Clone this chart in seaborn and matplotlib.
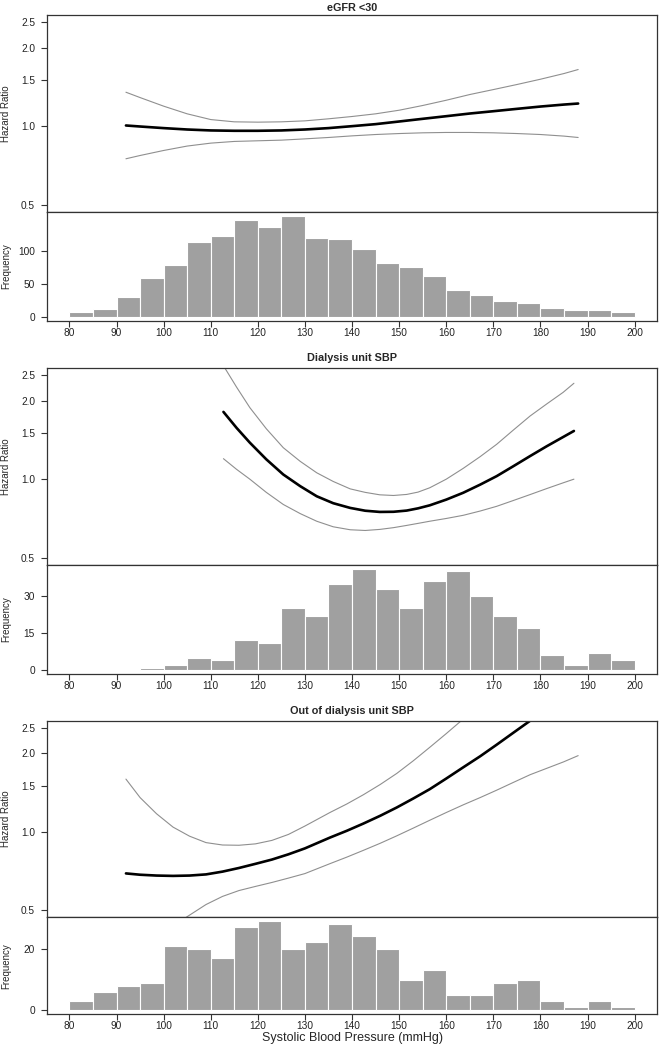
import numpy as np
import pandas as pd
import matplotlib
matplotlib.use("Agg")
import matplotlib.pyplot as plt
from matplotlib.ticker import NullLocator
import seaborn as sns

# ---- data ----
bin_edges = [80, 85, 90, 95, 100, 105, 110, 115, 120, 125, 130, 135, 140,
             145, 150, 155, 160, 165, 170, 175, 180, 185, 190, 195, 200]
sbp_ticks = [80, 90, 100, 110, 120, 130, 140, 150, 160, 170, 180, 190, 200]
hr_ticks = [0.5, 1.0, 1.5, 2.0, 2.5]

# eGFR <30
egfr_x = [92, 95, 100, 105, 110, 115, 120, 125, 130, 135, 140, 145, 150,
          155, 160, 165, 170, 175, 180, 185, 188]
egfr_hr = [1.006, 0.997, 0.983, 0.971, 0.963, 0.960, 0.960, 0.963, 0.971, 0.983,
           1.000, 1.018, 1.042, 1.067, 1.092, 1.118, 1.141, 1.165, 1.189, 1.210, 1.221]
egfr_hi = [1.349, 1.287, 1.193, 1.115, 1.060, 1.039, 1.036, 1.039, 1.048, 1.067,
           1.089, 1.115, 1.151, 1.200, 1.257, 1.322, 1.381, 1.444, 1.513, 1.591, 1.648]
egfr_lo = [0.750, 0.772, 0.807, 0.839, 0.861, 0.874, 0.879, 0.884, 0.894, 0.905,
           0.918, 0.929, 0.937, 0.943, 0.946, 0.946, 0.943, 0.937, 0.929, 0.916, 0.905]
egfr_counts = [7, 12, 30, 60, 80, 115, 124, 148, 138, 154, 120, 119,
               104, 82, 77, 63, 41, 33, 25, 21, 13, 11, 10, 7]

# Dialysis unit SBP
dial_x = [112.7, 115.5, 118.3, 121.8, 125.4, 129, 132.5, 136, 139.6, 142.8,
          145.9, 148.8, 151.6, 154, 156.5, 160, 163.6, 167.2, 170.7, 174.2,
          177.8, 181.3, 184.8, 187.1]
dial_hr = [1.81, 1.571, 1.38, 1.191, 1.042, 0.940, 0.860, 0.809, 0.776, 0.757,
           0.749, 0.750, 0.758, 0.773, 0.794, 0.835, 0.887, 0.953, 1.027, 1.120,
           1.226, 1.336, 1.45, 1.53]
dial_hi = [2.72, 2.25, 1.88, 1.56, 1.32, 1.17, 1.058, 0.98, 0.918, 0.89,
           0.871, 0.866, 0.874, 0.892, 0.927, 1.0, 1.10, 1.22, 1.36, 1.54,
           1.746, 1.94, 2.15, 2.33]
dial_lo = [1.198, 1.09, 1.0, 0.89, 0.80, 0.738, 0.69, 0.657, 0.64, 0.636,
           0.642, 0.652, 0.665, 0.677, 0.69, 0.707, 0.727, 0.755, 0.787, 0.828,
           0.873, 0.92, 0.968, 1.0]
dial_counts = [0, 0, 0, 1, 2, 5, 4, 12, 11, 25, 22, 35,
               41, 33, 25, 36, 40, 30, 22, 17, 6, 2, 7, 4]

# Out of dialysis unit SBP
out_x = [92, 95, 98.5, 102, 105.5, 109, 112.5, 116, 119.5, 123, 126.5, 130,
         135.3, 138.9, 142.4, 146, 149.5, 153, 156.5, 160, 163.6, 167.2,
         170.7, 174.2, 177.8, 184.9, 188]
out_hr = [0.691, 0.683, 0.678, 0.676, 0.678, 0.685, 0.702, 0.725, 0.752, 0.781,
          0.818, 0.862, 0.948, 1.007, 1.073, 1.150, 1.237, 1.339, 1.454, 1.597,
          1.763, 1.944, 2.153, 2.39, 2.66, 3.31, 3.66]
out_hi = [1.589, 1.35, 1.17, 1.04, 0.96, 0.907, 0.888, 0.886, 0.897, 0.925,
          0.975, 1.05, 1.183, 1.276, 1.384, 1.516, 1.671, 1.868, 2.104, 2.375,
          2.70, 3.09, 3.55, 4.1, 4.7, 6.2, 7.0]
out_lo = [0.31, 0.345, 0.39, 0.435, 0.478, 0.525, 0.564, 0.594, 0.616, 0.638,
          0.663, 0.69, 0.753, 0.798, 0.847, 0.902, 0.963, 1.031, 1.105, 1.183,
          1.266, 1.35, 1.441, 1.542, 1.652, 1.85, 1.955]
out_counts = [3, 6, 8, 9, 21, 20, 17, 27, 29, 20, 22, 28,
              24, 20, 10, 13, 5, 5, 9, 10, 3, 1, 3, 1]

titles = ["eGFR <30", "Dialysis unit SBP", "Out of dialysis unit SBP"]
hist_yticks = [[0, 50, 100], [0, 15, 30], [0, 20]]

# ---- style ----
sns.set_style("ticks")
plt.rcParams["font.family"] = ["Liberation Sans", "DejaVu Sans"]
plt.rcParams["axes.edgecolor"] = "#333333"
plt.rcParams["axes.linewidth"] = 0.9

W, H = 660, 1050
LEFT, RIGHT = 46.8, 657.3
# (hr top, hr bottom / hist top, hist bottom, title pad) in pixels
layout = [(15, 212, 321, 3), (368, 565, 674, 5), (720.5, 917.3, 1014, 5)]

CI_COL = "#8f8f8f"
BAR_COL = "#a0a0a0"


def box(top, bottom):
    return [LEFT / W, 1 - bottom / H, (RIGHT - LEFT) / W, (bottom - top) / H]


def style_ticks(ax):
    ax.tick_params(axis="both", direction="out", length=4, width=0.8,
                   color="#333333", labelsize=7.3, labelcolor="#222222")
    ax.tick_params(axis="y", pad=4.5)
    ax.tick_params(axis="x", pad=1)


fig = plt.figure(figsize=(W / 100, H / 100), dpi=100)

curves = [(egfr_x, egfr_hr, egfr_lo, egfr_hi),
          (dial_x, dial_hr, dial_lo, dial_hi),
          (out_x, out_hr, out_lo, out_hi)]
counts = [egfr_counts, dial_counts, out_counts]
centers = [(a + b) / 2 for a, b in zip(bin_edges[:-1], bin_edges[1:])]

for i, (top, mid, bot, pad) in enumerate(layout):
    xs, hr, lo, hi = curves[i]

    # hazard ratio spline panel
    ax = fig.add_axes(box(top, mid))
    sns.lineplot(x=xs, y=hi, ax=ax, color=CI_COL, linewidth=0.8)
    sns.lineplot(x=xs, y=lo, ax=ax, color=CI_COL, linewidth=0.8)
    sns.lineplot(x=xs, y=hr, ax=ax, color="black", linewidth=1.9)
    ax.set_yscale("log")
    ax.set_ylim(0.469, 2.666)
    ax.set_xlim(75.2, 204.8)
    ax.set_yticks(hr_ticks)
    ax.set_yticklabels([f"{t:.1f}" for t in hr_ticks])
    ax.yaxis.set_minor_locator(NullLocator())
    ax.set_xticks([])
    style_ticks(ax)
    ax.set_ylabel("Hazard Ratio", fontsize=7)
    ax.yaxis.set_label_coords(-0.0586, 0.5)
    ax.set_title(titles[i], fontsize=7.8, fontweight="bold", pad=pad)

    # frequency histogram panel
    axh = fig.add_axes(box(mid, bot))
    df = pd.DataFrame({"sbp": centers, "n": counts[i]})
    sns.histplot(data=df, x="sbp", weights="n", bins=bin_edges, ax=axh,
                 color=BAR_COL, edgecolor="white", linewidth=0.8, alpha=1)
    ymax = max(counts[i])
    axh.set_ylim(-0.04 * ymax, 1.04 * ymax)
    axh.set_xlim(75.2, 204.8)
    axh.set_yticks(hist_yticks[i])
    axh.set_xticks(sbp_ticks)
    style_ticks(axh)
    axh.set_ylabel("Frequency", fontsize=7)
    axh.yaxis.set_label_coords(-0.0586, 0.5)
    if i == 2:
        axh.set_xlabel("Systolic Blood Pressure (mmHg)", fontsize=9)
        axh.xaxis.set_label_coords(0.5, -0.185)
    else:
        axh.set_xlabel("")

fig.savefig("out.png", dpi=100)
